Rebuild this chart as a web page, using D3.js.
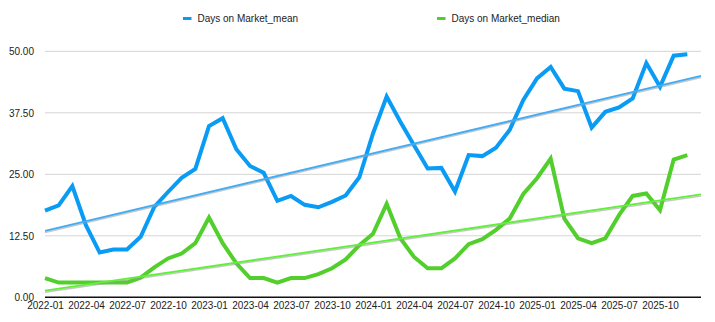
<!DOCTYPE html>
<html>
<head>
<meta charset="utf-8">
<script src="https://cdn.jsdelivr.net/npm/d3@7"></script>
<style>
  html, body { margin: 0; padding: 0; background: #fff; }
  svg { display: block; font-family: "Liberation Sans", Arial, sans-serif; }
</style>
</head>
<body>
<svg id="chart" width="715" height="322"></svg>
<script>
const months = [
  "2022-01","2022-02","2022-03","2022-04","2022-05","2022-06","2022-07","2022-08","2022-09","2022-10","2022-11","2022-12",
  "2023-01","2023-02","2023-03","2023-04","2023-05","2023-06","2023-07","2023-08","2023-09","2023-10","2023-11","2023-12",
  "2024-01","2024-02","2024-03","2024-04","2024-05","2024-06","2024-07","2024-08","2024-09","2024-10","2024-11","2024-12",
  "2025-01","2025-02","2025-03","2025-04","2025-05","2025-06","2025-07","2025-08","2025-09","2025-10","2025-11","2025-12"
];
const meanValues = [
  17.6, 18.7, 22.6, 14.6, 9.1, 9.7, 9.7, 12.3, 18.4, 21.4, 24.3, 26.1,
  34.8, 36.4, 30.1, 26.7, 25.3, 19.6, 20.6, 18.8, 18.3, 19.4, 20.7, 24.4,
  33.3, 40.8, 35.7, 30.9, 26.2, 26.3, 21.5, 28.9, 28.7, 30.4, 34.0, 40.1,
  44.5, 46.8, 42.4, 41.9, 34.5, 37.7, 38.6, 40.4, 47.6, 42.8, 49.1, 49.4
];
const medianValues = [
  3.9, 3.0, 3.0, 3.0, 3.0, 3.0, 3.0, 4.0, 6.1, 7.9, 8.9, 11.0,
  16.2, 11.0, 6.9, 3.9, 3.9, 3.0, 3.9, 3.9, 4.7, 5.9, 7.7, 10.6,
  12.9, 19.0, 12.0, 8.2, 5.9, 5.9, 7.9, 10.8, 11.8, 13.7, 16.0, 21.0,
  24.2, 28.2, 16.0, 12.0, 11.0, 12.0, 16.7, 20.6, 21.1, 17.7, 28.0, 28.9
];
// trend line end values (at start of 2022-01 and at end of the axis)
const meanTrend = [13.5, 45.0];
const medianTrend = [1.35, 20.9];
const yTicks = [0, 12.5, 25, 37.5, 50];
const seriesNames = ["Days on Market_mean", "Days on Market_median"];

const svg = d3.select("#chart");
const mLeft = 45, mRight = 701, mTop = 51.3, mBottom = 297.3;

const x = d3.scaleLinear().domain([0, months.length]).range([mLeft, mRight]);
const y = d3.scaleLinear().domain([0, 50]).range([mBottom, mTop]);

const colors = { mean: "#0a9bf5", median: "#52cf2d", meanTrend: "#40acf5", medianTrend: "#5ff03a" };

// grid lines
svg.append("g")
  .selectAll("line")
  .data(yTicks.filter(d => d > 0))
  .join("line")
  .attr("x1", mLeft).attr("x2", mRight)
  .attr("y1", d => y(d)).attr("y2", d => y(d))
  .attr("stroke", "#d4d4d4").attr("stroke-width", 1);

// y axis labels
const yAxis = d3.axisLeft(y).tickValues(yTicks).tickFormat(d3.format(".2f")).tickSize(0).tickPadding(11);
const gy = svg.append("g").attr("transform", `translate(${mLeft},0)`).call(yAxis);
gy.select(".domain").remove();
gy.selectAll("text").attr("fill", "#222").style("font-size", "10px").style("font-family", "Liberation Sans, Arial, sans-serif");

// x axis
const xTickIdx = d3.range(0, months.length, 3);
const xAxis = d3.axisBottom(x).tickValues(xTickIdx).tickFormat(i => months[i]).tickSize(0).tickPadding(5);
const gx = svg.append("g").attr("transform", `translate(0,${mBottom})`).call(xAxis);
gx.select(".domain").attr("stroke", "#111").attr("stroke-width", 1.5).attr("d", `M${mLeft},0H${mRight}`);
gx.selectAll("text").attr("fill", "#222").style("font-size", "10px").style("font-family", "Liberation Sans, Arial, sans-serif");

// trend lines with shadow
function trend(vals, color) {
  const x0 = x(0), x1 = x(months.length);
  svg.append("line")
    .attr("x1", x0).attr("x2", x1)
    .attr("y1", y(vals[0]) + 1.5).attr("y2", y(vals[1]) + 1.5)
    .attr("stroke", "#999").attr("stroke-opacity", 0.55).attr("stroke-width", 1.6);
  svg.append("line")
    .attr("x1", x0).attr("x2", x1)
    .attr("y1", y(vals[0])).attr("y2", y(vals[1]))
    .attr("stroke", color).attr("stroke-width", 1.8);
}

const line = d3.line().x((d, i) => x(i)).y(d => y(d));

svg.append("path").datum(meanValues)
  .attr("d", line).attr("fill", "none")
  .attr("stroke", colors.mean).attr("stroke-width", 4).attr("stroke-linejoin", "miter");
svg.append("path").datum(medianValues)
  .attr("d", line).attr("fill", "none")
  .attr("stroke", colors.median).attr("stroke-width", 4).attr("stroke-linejoin", "miter");

trend(meanTrend, colors.meanTrend);
trend(medianTrend, colors.medianTrend);

// legend
const legend = [
  { name: seriesNames[0], color: colors.mean, x: 183 },
  { name: seriesNames[1], color: colors.median, x: 437 }
];
const lg = svg.append("g").selectAll("g").data(legend).join("g")
  .attr("transform", d => `translate(${d.x},18.5)`);
lg.append("rect").attr("x", 0).attr("y", -1.5).attr("width", 8.5).attr("height", 3).attr("fill", d => d.color);
lg.append("text").attr("x", 14.5).attr("y", 0).attr("dy", "0.35em")
  .attr("fill", "#222").style("font-size", "10px").text(d => d.name);
</script>
</body>
</html>
